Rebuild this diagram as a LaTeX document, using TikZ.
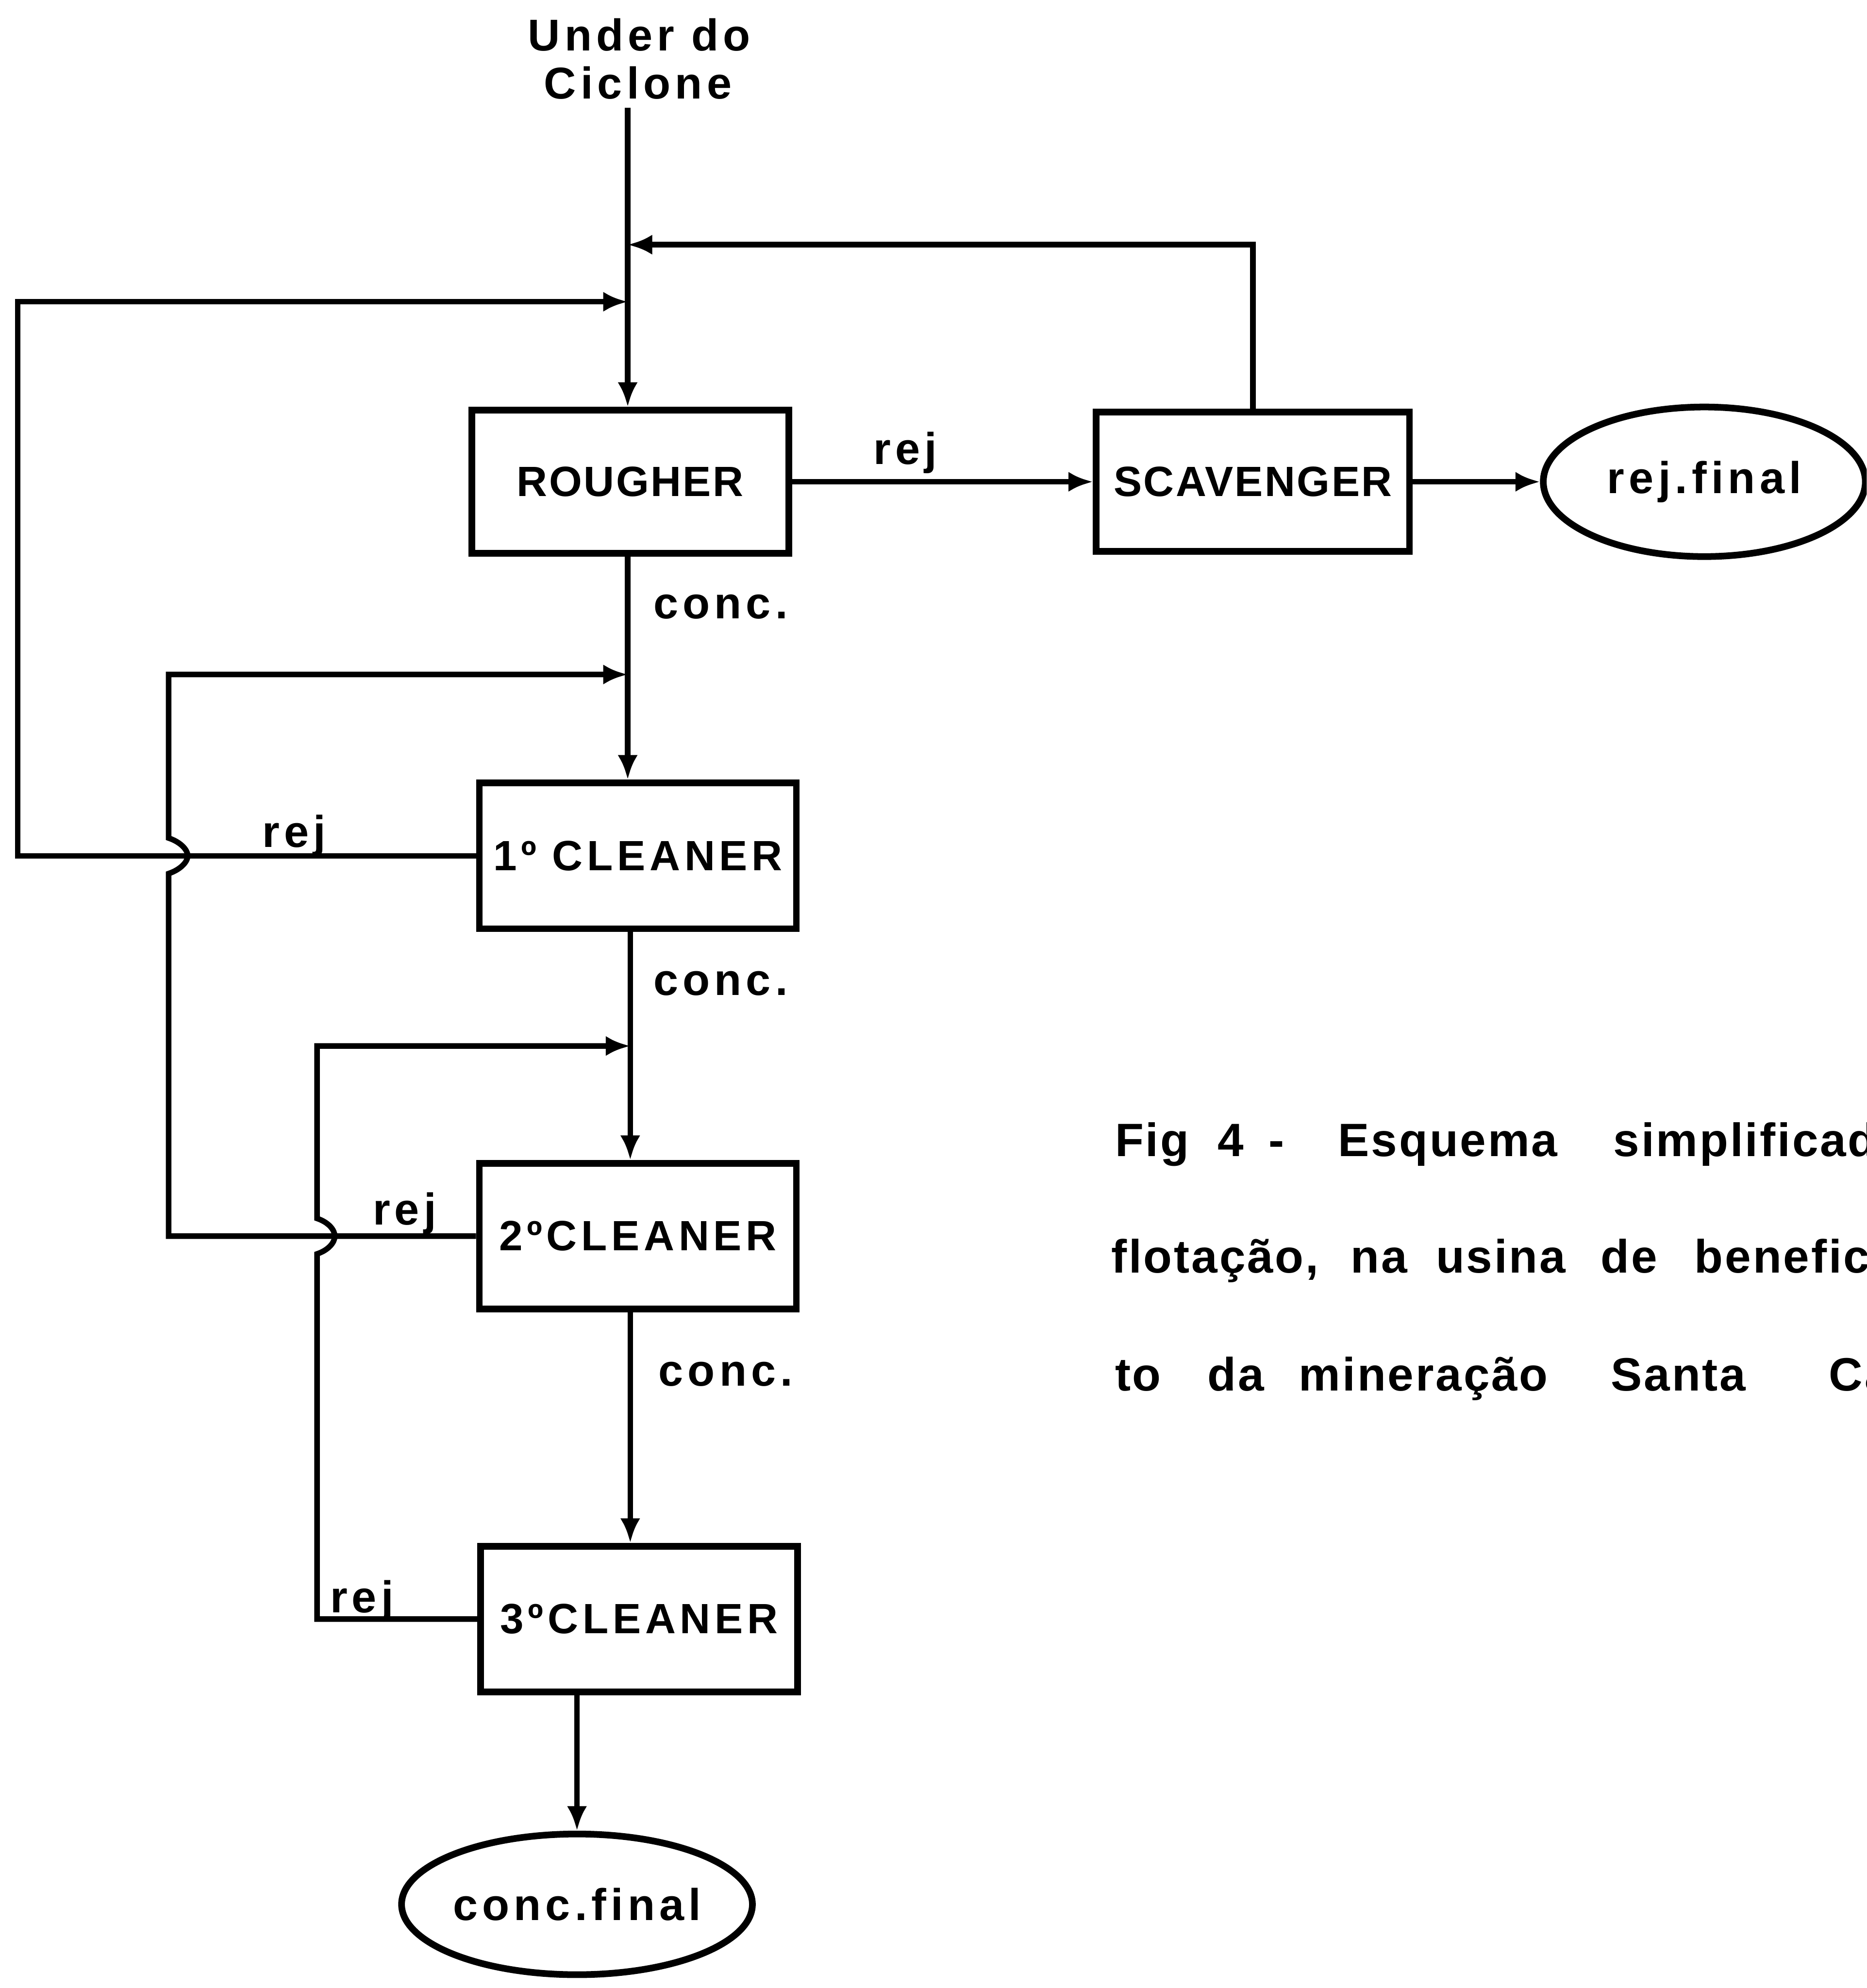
\documentclass[tikz,border=0pt]{standalone}
\usepackage{fontspec}
\setmainfont{Liberation Sans}
\newfontfamily\lettering[LetterSpace=10]{Liberation Sans}
\newfontfamily\letteringn[LetterSpace=4]{Liberation Sans}
\usetikzlibrary{arrows.meta,shapes.geometric}
\begin{document}
\begin{tikzpicture}[x=0.02cm,y=-0.02cm,
  box/.style={draw,line width=3pt,rectangle,inner sep=0pt,minimum width=5cm,minimum height=2.3cm,
    font=\lettering\bfseries\fontsize{19}{22}\selectfont},
  narrowtext/.style={font=\letteringn\bfseries\fontsize{19}{22}\selectfont},
  oval/.style={draw,line width=3pt,ellipse,inner sep=0pt,
    font=\lettering\bfseries\fontsize{20}{24}\selectfont},
  conn/.style={line width=2.5pt},
  flow/.style={conn,-{Latex[length=11pt,width=9pt]}},
  lbl/.style={inner sep=0pt,font=\lettering\bfseries\fontsize{20}{24}\selectfont},
  captxt/.style={inner sep=0pt,anchor=base west,font=\letteringn\bfseries\fontsize{21}{25}\selectfont},
]
\useasboundingbox (0,0) rectangle (1472,1568);
\clip (0,0) rectangle (1472,1568);
\fill[white] (0,0) rectangle (1472,1568);

% feed text
\node[lbl,anchor=base] (under) at (504,40) {Under do};
\node[lbl,anchor=base] (ciclone) at (503,78) {Ciclone};

% units
\node[box,narrowtext,minimum height=2.26cm] (rougher) at (497,380) {ROUGHER};
\node[box,narrowtext,minimum width=4.94cm,minimum height=2.2cm] (scav) at (988,380) {SCAVENGER};
\node[oval,minimum width=5.08cm,minimum height=2.36cm] (rejfinal) at (1344,380) {rej.final};
\node[box] (c1) at (503,675) {1º CLEANER};
\node[box] (c2) at (503,975) {2ºCLEANER};
\node[box] (c3) at (504,1277) {3ºCLEANER};
\node[oval,minimum width=4.62cm,minimum height=2.22cm] (cf) at (455,1502) {conc.final};

% junction points and loop columns
\coordinate (feedtop) at (495,85);
\coordinate (j1) at (495,193);
\coordinate (j2) at (495,238);
\coordinate (j3) at (495,532);
\coordinate (j4) at (497,825);
\coordinate (xa) at (14,0);
\coordinate (xb) at (133,0);
\coordinate (xc) at (250,0);

% main line
\draw[flow] (feedtop) -- (feedtop |- rougher.north);
\draw[flow] (rougher.south -| feedtop) -- (c1.north -| feedtop);
\draw[flow] (c1.south -| j4) -- (c2.north -| j4);
\draw[flow] (c2.south -| j4) -- (c3.north -| j4);
\draw[flow] (c3.south -| cf.north) -- (cf.north);

% rougher -> scavenger -> rej.final
\draw[flow] (rougher.east) -- (scav.west);
\draw[flow] (scav.east) -- (rejfinal.west);

% scavenger return
\draw[flow] (scav.north) |- (j1);

% 1st cleaner rejects
\draw[flow] (c1.west) -- (xa |- c1.west) |- (j2);

% 2nd cleaner rejects (hop over 1st cleaner reject line)
\draw[flow] (c2.west) -- (xb |- c2.west) -- (133,689)
  .. controls (142,686) and (148,680) .. (148,675)
  .. controls (148,670) and (142,664) .. (133,661)
  -- (xb |- j3) -- (j3);

% 3rd cleaner rejects (hop over 2nd cleaner reject line)
\draw[flow] (c3.west) -- (xc |- c3.west) -- (250,989)
  .. controls (259,986) and (264,980) .. (264,975)
  .. controls (264,970) and (259,964) .. (250,961)
  -- (xc |- j4) -- (j4);

% stream labels
\node[lbl,anchor=base] (lrej0) at (714,366) {rej};
\node[lbl,anchor=base west] (lconc1) at (515,488) {conc.};
\node[lbl,anchor=base] (lrej1) at (232,668) {rej};
\node[lbl,anchor=base west] (lconc2) at (515,785) {conc.};
\node[lbl,anchor=base] (lrej2) at (319,966) {rej};
\node[lbl,anchor=base west] (lconc3) at (519,1093) {conc.};
\node[lbl,anchor=base west] (lrej3) at (260,1272) {rej};

% caption
\node[captxt] (w1) at (879,912) {Fig};
\node[captxt] (w2) at (960,912) {4};
\node[captxt] (w3) at (1000,912) {-};
\node[captxt] (w4) at (1055,912) {Esquema};
\node[captxt] (w5) at (1272,912) {simplificado};
\node[captxt] (w6) at (876,1004) {flotação,};
\node[captxt] (w7) at (1065,1004) {na};
\node[captxt] (w8) at (1132,1004) {usina};
\node[captxt] (w9) at (1262,1004) {de};
\node[captxt] (w10) at (1336,1004) {beneficia};
\node[captxt] (w11) at (879,1097) {to};
\node[captxt] (w12) at (952,1097) {da};
\node[captxt] (w13) at (1024,1097) {mineração};
\node[captxt] (w14) at (1270,1097) {Santa};
\node[captxt] (w15) at (1442,1097) {Ca};
\end{tikzpicture}
\end{document}
